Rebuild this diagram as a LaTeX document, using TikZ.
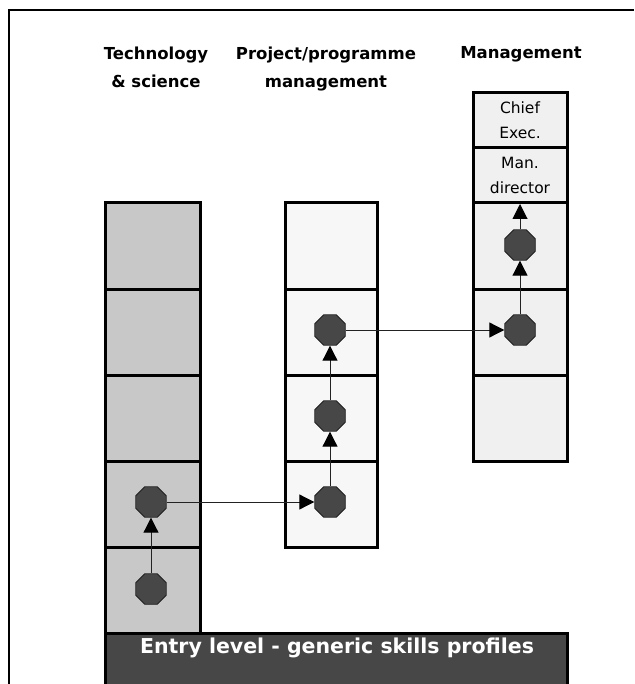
\documentclass[tikz,border=0pt]{standalone}
\usepackage{fontspec}
\setmainfont{DejaVu Sans}
\usetikzlibrary{shapes.geometric,arrows.meta}

\definecolor{techgray}{HTML}{C8C8C8}
\definecolor{projgray}{HTML}{F7F7F7}
\definecolor{mangray}{HTML}{F0F0F0}
\definecolor{darkfill}{HTML}{474747}
\definecolor{edgegray}{HTML}{222222}

\tikzset{
  cell/.style={draw=black, line width=3pt, rectangle, inner sep=0pt, outer sep=0pt},
  techcell/.style={cell, fill=techgray, minimum width=95pt, minimum height=86pt},
  projcell/.style={cell, fill=projgray, minimum width=92pt, minimum height=86pt},
  mancell/.style={cell, fill=mangray, minimum width=94pt, minimum height=86pt},
  post/.style={regular polygon, regular polygon sides=8, minimum size=33pt,
               inner sep=0pt, fill=darkfill, draw=edgegray, line width=0.9pt},
  heading/.style={font=\bfseries\fontsize{16.5}{28}\selectfont, align=center, anchor=north},
  role/.style={font=\fontsize{15.5}{25}\selectfont, align=center},
  move/.style={draw=edgegray, line width=1pt,
               -{Triangle[length=15pt,width=15pt,fill=black,color=black]}}
}

\begin{document}
\begin{tikzpicture}[x=1pt, y=-1pt]
  \useasboundingbox (0,0) rectangle (634,684);

  % outer frame (top and left edges)
  \draw[line width=2pt] (9,684) -- (9,10) -- (634,10);

  % column headings
  \node[heading] (hTech) at (156,43) {Technology\\\& science};
  \node[heading] (hProj) at (326,43) {Project/programme\\management};
  \node[heading] (hMan)  at (521,43) {Management};

  % technology & science column
  \node[techcell] (t1) at (152.5,246) {};
  \node[techcell] (t2) at (152.5,332) {};
  \node[techcell] (t3) at (152.5,418) {};
  \node[techcell] (t4) at (152.5,504) {};
  \node[techcell] (t5) at (152.5,590) {};

  % project/programme management column
  \node[projcell] (p1) at (331,246) {};
  \node[projcell] (p2) at (331,332) {};
  \node[projcell] (p3) at (331,418) {};
  \node[projcell] (p4) at (331,504) {};

  % management column
  \node[mancell, minimum height=55pt, role] (m0) at (520,120.5) {Chief\\Exec.};
  \node[mancell, minimum height=55pt, role] (m1) at (520,175.5) {Man.\\director};
  \node[mancell] (m2) at (520,246) {};
  \node[mancell] (m3) at (520,332) {};
  \node[mancell] (m4) at (520,418) {};

  % entry level bar
  \node[draw=black, line width=3pt, fill=darkfill, rectangle, inner sep=0pt,
        minimum width=462pt, minimum height=56pt] (entry) at (336,661) {};
  \node[font=\bfseries\fontsize{20.5}{24}\selectfont, text=white, anchor=base]
        (entrytext) at (337,653) {Entry level - generic skills profiles};

  % career positions
  \node[post] (a1) at (151,589) {};
  \node[post] (a2) at (151,502) {};
  \node[post] (b1) at (330,502) {};
  \node[post] (b2) at (330,416) {};
  \node[post] (b3) at (330,330) {};
  \node[post] (c1) at (520,330) {};
  \node[post] (c2) at (520,245) {};
  \coordinate (ctop) at (520,204);

  % career moves
  \draw[move] (a1) -- (a2);
  \draw[move] (a2) -- (b1);
  \draw[move] (b1) -- (b2);
  \draw[move] (b2) -- (b3);
  \draw[move] (b3) -- (c1);
  \draw[move] (c1) -- (c2);
  \draw[move] (c2) -- (ctop);
\end{tikzpicture}
\end{document}
